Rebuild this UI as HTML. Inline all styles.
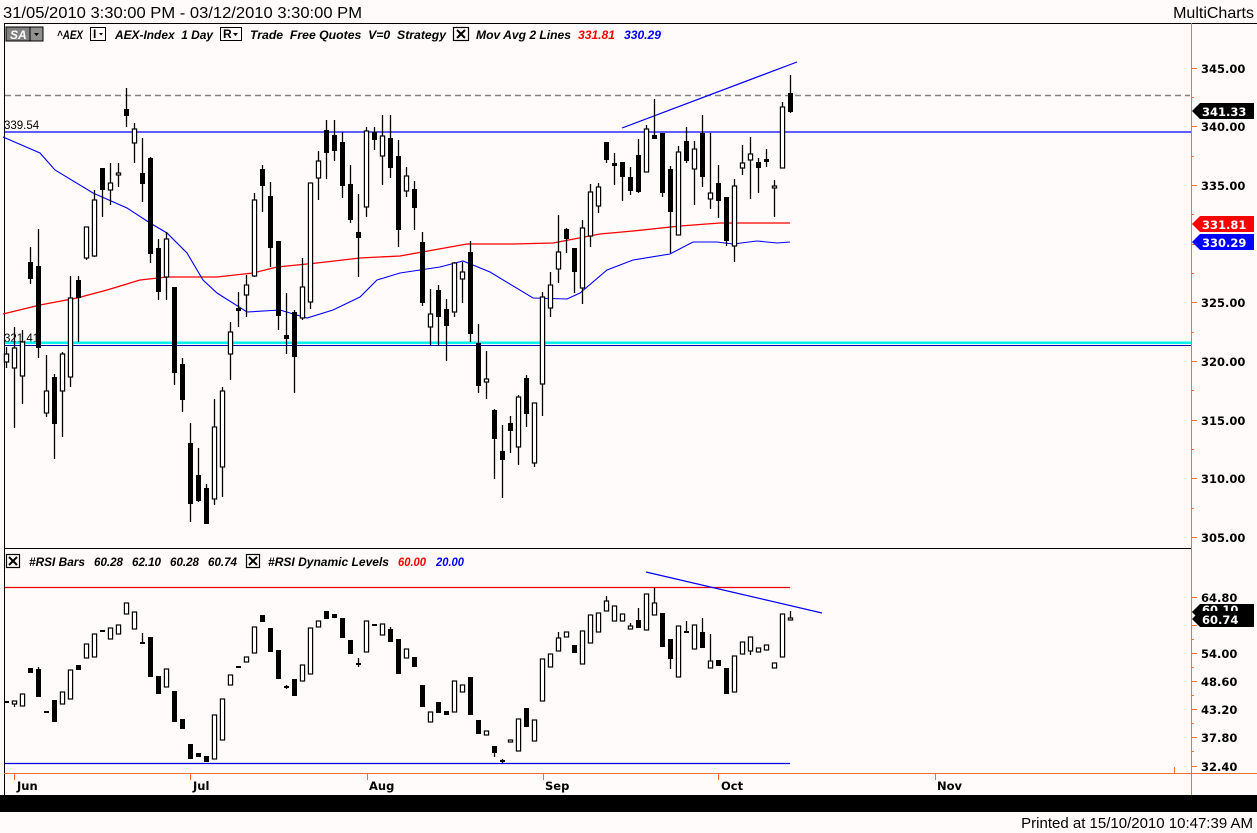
<!DOCTYPE html>
<html><head><meta charset="utf-8">
<style>
html,body{margin:0;padding:0;background:#fffbfa;}
body{width:1257px;height:833px;overflow:hidden;position:relative;font-family:"Liberation Sans",sans-serif;}
svg{position:absolute;left:0;top:0;}
.ax{font-family:"DejaVu Sans",sans-serif;font-weight:bold;font-size:11.5px;fill:#000;}
.lg{font-family:"Liberation Sans",sans-serif;font-weight:bold;font-style:italic;font-size:12px;fill:#000;}
.mo{font-family:"DejaVu Sans",sans-serif;font-weight:bold;font-size:11.5px;fill:#000;}
</style></head><body>
<svg id="s" width="1257" height="833" viewBox="0 0 1257 833" xmlns="http://www.w3.org/2000/svg">
<rect x="0" y="0" width="1257" height="833" fill="#fffbfa"/>
<text x="3" y="18" font-family="Liberation Sans" font-size="16" fill="#000" textLength="359" lengthAdjust="spacingAndGlyphs">31/05/2010 3:30:00 PM - 03/12/2010 3:30:00 PM</text>
<text x="1254" y="18" font-family="Liberation Sans" font-size="16" fill="#000" text-anchor="end">MultiCharts</text>
<!-- frame -->
<line x1="4" y1="23.5" x2="1257" y2="23.5" stroke="#000"/>
<line x1="4.5" y1="23" x2="4.5" y2="795" stroke="#000"/>
<line x1="4" y1="548.5" x2="1191" y2="548.5" stroke="#000"/>
<line x1="1191.5" y1="23" x2="1191.5" y2="795" stroke="#f07030"/>
<line x1="4" y1="773.5" x2="1257" y2="773.5" stroke="#f07030"/>
<rect x="0" y="795" width="1257" height="17" fill="#000"/>
<text x="1253" y="828" font-family="Liberation Sans" font-size="15" fill="#000" text-anchor="end">Printed at 15/10/2010 10:47:39 AM</text>

<!-- legend row 1 -->
<rect x="6" y="27" width="24" height="14" fill="#808080" stroke="#000" stroke-width="1"/>
<text x="10" y="39" class="lg" style="fill:#fff">SA</text>
<rect x="30" y="27" width="13" height="14" fill="#909090" stroke="#000" stroke-width="1"/>
<path d="M34 33 L39 33 L36.5 36 Z" fill="#000"/>
<text x="57" y="39" class="lg" textLength="26" lengthAdjust="spacingAndGlyphs">^AEX</text>
<rect x="90.5" y="27.5" width="15" height="13" fill="none" stroke="#000"/>
<text x="93" y="38" class="lg" style="font-style:normal">I</text><path d="M99 33 L103 33 L101 35.5 Z" fill="#000"/>
<text x="115" y="39" class="lg" textLength="98" lengthAdjust="spacingAndGlyphs">AEX-Index&#160; 1 Day</text>
<rect x="220.5" y="27.5" width="21" height="13" fill="none" stroke="#000"/>
<text x="223" y="38" class="lg" style="font-style:normal">R</text><path d="M233 33 L238 33 L235.5 36 Z" fill="#000"/>
<text x="250" y="39" class="lg" textLength="196" lengthAdjust="spacingAndGlyphs">Trade&#160; Free Quotes&#160; V=0&#160; Strategy</text>
<rect x="453.5" y="27.5" width="15" height="13" fill="none" stroke="#000" stroke-width="1.2"/>
<path d="M457 30 L465 38 M465 30 L457 38" stroke="#000" stroke-width="2"/>
<text x="476" y="39" class="lg" textLength="95" lengthAdjust="spacingAndGlyphs">Mov Avg 2 Lines</text>
<text x="578" y="39" class="lg" style="fill:#f00" textLength="37" lengthAdjust="spacingAndGlyphs">331.81</text>
<text x="624" y="39" class="lg" style="fill:#00f" textLength="37" lengthAdjust="spacingAndGlyphs">330.29</text>

<!-- legend row 2 -->
<rect x="6.5" y="554.5" width="13" height="13" fill="none" stroke="#000" stroke-width="1.2"/>
<path d="M9 557 L17 565 M17 557 L9 565" stroke="#000" stroke-width="2"/>
<text x="29" y="566" class="lg" textLength="56" lengthAdjust="spacingAndGlyphs">#RSI Bars</text>
<text x="94" y="566" class="lg" textLength="29" lengthAdjust="spacingAndGlyphs">60.28</text>
<text x="132" y="566" class="lg" textLength="29" lengthAdjust="spacingAndGlyphs">62.10</text>
<text x="170" y="566" class="lg" textLength="29" lengthAdjust="spacingAndGlyphs">60.28</text>
<text x="208" y="566" class="lg" textLength="29" lengthAdjust="spacingAndGlyphs">60.74</text>
<rect x="246.5" y="554.5" width="13" height="13" fill="none" stroke="#000" stroke-width="1.2"/>
<path d="M249 557 L257 565 M257 557 L249 565" stroke="#000" stroke-width="2"/>
<text x="268" y="566" class="lg" textLength="121" lengthAdjust="spacingAndGlyphs">#RSI Dynamic Levels</text>
<text x="398" y="566" class="lg" style="fill:#f00" textLength="28" lengthAdjust="spacingAndGlyphs">60.00</text>
<text x="436" y="566" class="lg" style="fill:#00f" textLength="28" lengthAdjust="spacingAndGlyphs">20.00</text>

<!-- horizontal lines price -->
<line x1="5" y1="95.5" x2="1190" y2="95.5" stroke="#808080" stroke-width="1.5" stroke-dasharray="6,4"/>
<line x1="5" y1="132" x2="1191" y2="132" stroke="#0000ff" stroke-width="1.3"/>
<text x="4" y="129" font-family="Liberation Sans" font-size="11.5" fill="#000">339.54</text>
<text x="4" y="342" font-family="Liberation Sans" font-size="11.5" fill="#000">321.41</text>
<line x1="5" y1="342.7" x2="1191" y2="342.7" stroke="#00f0f0" stroke-width="2.5"/>
<line x1="5" y1="345.5" x2="1191" y2="345.5" stroke="#0000a0" stroke-width="1"/>
<line x1="622" y1="128" x2="797" y2="62" stroke="#0000ff" stroke-width="1.2"/>

<!-- MAs -->
<polyline fill="none" stroke="#f00" stroke-width="1.3" points="3,314 40,305 77,298 107,290 140,280 167,277 187,277 217,277 253,273 277,267 317,263 360,258 400,256 467,244 513,244 553,243 600,234 633,231 680,226 720,223 790,223"/>
<polyline fill="none" stroke="#00f" stroke-width="1.1" points="3,137 40,153 55,170 93,193 127,208 150,223 167,233 187,253 203,280 217,293 247,312 280,310 307,318 333,310 360,297 377,280 400,273 440,267 463,261 490,272 533,298 567,299 580,293 607,270 633,260 670,254 693,242 717,242 733,244 757,241 777,243 790,242"/>

<!-- RSI lines -->
<line x1="5" y1="587.5" x2="790" y2="587.5" stroke="#e00000" stroke-width="1.2"/>
<line x1="5" y1="763.5" x2="790" y2="763.5" stroke="#0000e0" stroke-width="1.2"/>
<line x1="646" y1="572" x2="822" y2="613" stroke="#0000ff" stroke-width="1.2"/>

<g id="pc"></g>
<g id="rc"></g>

<!-- price axis -->
<g stroke="#f07030" stroke-width="1">
<line x1="1191" y1="68.5" x2="1197" y2="68.5"/><line x1="1191" y1="97.5" x2="1194" y2="97.5"/>
<line x1="1191" y1="126.5" x2="1197" y2="126.5"/><line x1="1191" y1="156.5" x2="1194" y2="156.5"/>
<line x1="1191" y1="185.5" x2="1197" y2="185.5"/><line x1="1191" y1="214.5" x2="1194" y2="214.5"/>
<line x1="1191" y1="244.5" x2="1197" y2="244.5"/><line x1="1191" y1="273.5" x2="1194" y2="273.5"/>
<line x1="1191" y1="302.5" x2="1197" y2="302.5"/><line x1="1191" y1="332.5" x2="1194" y2="332.5"/>
<line x1="1191" y1="361.5" x2="1197" y2="361.5"/><line x1="1191" y1="390.5" x2="1194" y2="390.5"/>
<line x1="1191" y1="420.5" x2="1197" y2="420.5"/><line x1="1191" y1="449.5" x2="1194" y2="449.5"/>
<line x1="1191" y1="478.5" x2="1197" y2="478.5"/><line x1="1191" y1="508.5" x2="1194" y2="508.5"/>
<line x1="1191" y1="537.5" x2="1197" y2="537.5"/>
<line x1="1191" y1="597.5" x2="1197" y2="597.5"/><line x1="1191" y1="611.5" x2="1194" y2="611.5"/>
<line x1="1191" y1="625.5" x2="1197" y2="625.5"/><line x1="1191" y1="639.5" x2="1194" y2="639.5"/>
<line x1="1191" y1="653.5" x2="1197" y2="653.5"/><line x1="1191" y1="667.5" x2="1194" y2="667.5"/>
<line x1="1191" y1="681.5" x2="1197" y2="681.5"/><line x1="1191" y1="695.5" x2="1194" y2="695.5"/>
<line x1="1191" y1="709.5" x2="1197" y2="709.5"/><line x1="1191" y1="723.5" x2="1194" y2="723.5"/>
<line x1="1191" y1="737.5" x2="1197" y2="737.5"/><line x1="1191" y1="751.5" x2="1194" y2="751.5"/>
<line x1="1191" y1="766.5" x2="1197" y2="766.5"/>
<line x1="14.5" y1="773" x2="14.5" y2="780"/><line x1="190.5" y1="773" x2="190.5" y2="780"/>
<line x1="367.5" y1="773" x2="367.5" y2="780"/><line x1="543.5" y1="773" x2="543.5" y2="780"/>
<line x1="718.5" y1="773" x2="718.5" y2="780"/><line x1="935.5" y1="773" x2="935.5" y2="780"/>
<line x1="1174.5" y1="767" x2="1174.5" y2="773"/>
</g>
<g class="ax">
<text x="1201" y="73" class="ax">345.00</text>
<text x="1201" y="131" class="ax">340.00</text>
<text x="1201" y="190" class="ax">335.00</text>
<text x="1201" y="307" class="ax">325.00</text>
<text x="1201" y="366" class="ax">320.00</text>
<text x="1201" y="425" class="ax">315.00</text>
<text x="1201" y="483" class="ax">310.00</text>
<text x="1201" y="542" class="ax">305.00</text>
<text x="1201" y="602" class="ax">64.80</text>
<text x="1201" y="658" class="ax">54.00</text>
<text x="1201" y="686" class="ax">48.60</text>
<text x="1201" y="714" class="ax">43.20</text>
<text x="1201" y="742" class="ax">37.80</text>
<text x="1201" y="771" class="ax">32.40</text>
</g>
<!-- markers -->
<path d="M1192 111 L1200 103 L1254 103 L1254 119 L1200 119 Z" fill="#000"/>
<text x="1202" y="116" class="ax" style="fill:#fff">341.33</text>
<path d="M1192 224 L1200 216 L1254 216 L1254 232 L1200 232 Z" fill="#f00"/>
<text x="1202" y="229" class="ax" style="fill:#fff">331.81</text>
<path d="M1192 242 L1200 234 L1254 234 L1254 250 L1200 250 Z" fill="#00f"/>
<text x="1202" y="247" class="ax" style="fill:#fff">330.29</text>
<path d="M1192 612 L1200 604 L1254 604 L1254 620 L1200 620 Z" fill="#000"/>
<text x="1202" y="614" class="ax" style="fill:#fff">60.10</text>
<path d="M1192 619 L1200 611 L1254 611 L1254 627 L1200 627 Z" fill="#000"/>
<text x="1202" y="624" class="ax" style="fill:#fff">60.74</text>
<!-- months -->
<text x="17" y="790" class="mo">Jun</text>
<text x="193" y="790" class="mo">Jul</text>
<text x="369" y="790" class="mo">Aug</text>
<text x="545" y="790" class="mo">Sep</text>
<text x="721" y="790" class="mo">Oct</text>
<text x="937" y="790" class="mo">Nov</text>
</svg>
<script>
var P=[[347,368,354,362,0],[327,428,348,368,0],[330,404,342,376,0],[247,284,262,279,1],[229,358,266,348,1],[355,417,391,413,0],[374,459,377,424,1],[352,437,354,391,0],[276,387,298,377,0],[276,342,280,298,1],[227,260,227,258,0],[190,257,200,256,0],[168,217,168,190,1],[163,205,183,190,0],[163,187,173,175,0],[88,127,109,116,1],[123,163,129,143,0],[138,202,173,184,1],[157,263,158,254,1],[239,300,248,292,1],[232,300,239,277,0],[287,385,287,373,1],[358,412,364,400,1],[423,522,443,504,1],[448,502,475,501,1],[484,524,488,524,1],[399,505,427,499,0],[387,497,391,467,0],[322,380,332,354,0],[292,327,308,311,1],[275,317,285,295,0],[193,277,200,276,0],[165,212,169,186,1],[182,267,196,248,1],[241,330,241,316,1],[293,354,335,339,1],[310,393,312,357,1],[258,320,287,318,0],[183,309,183,302,0],[151,200,161,178,0],[120,179,130,153,1],[120,161,135,151,1],[132,198,142,186,1],[165,223,184,220,1],[194,277,232,238,1],[127,217,131,207,0],[127,150,132,140,1],[115,185,136,156,0],[115,178,138,168,1],[140,247,156,230,1],[167,197,176,191,0],[181,230,189,208,1],[232,306,242,303,1],[289,345,314,327,0],[285,346,290,317,1],[299,361,309,326,1],[262,317,263,312,0],[262,303,272,279,0],[241,342,252,334,1],[324,393,343,386,1],[351,399,379,382,0],[409,479,410,439,1],[425,498,451,460,1],[416,453,423,431,1],[395,465,397,447,0],[375,427,378,414,1],[403,467,403,463,0],[292,416,297,384,0],[272,317,285,308,0],[215,283,252,269,0],[228,253,229,239,1],[248,293,248,272,1],[220,304,228,288,0],[184,247,192,236,0],[183,213,187,206,0],[142,163,142,160,1],[153,185,163,166,1],[162,201,162,177,1],[167,195,177,191,1],[139,193,155,192,1],[125,172,129,172,0],[99,139,135,139,1],[133,197,133,193,1],[166,253,169,212,1],[146,235,152,235,0],[127,163,141,161,1],[141,205,149,169,0],[115,187,133,177,1],[133,209,193,199,0],[165,218,183,201,1],[197,246,197,241,1],[179,262,186,246,0],[145,175,163,168,0],[137,199,154,160,0],[158,193,162,168,1],[149,167,159,162,1],[180,217,186,188,0],[102,168,107,168,0],[75,113,93,112,1]];
var R=[[702,702,701,703,1],[701,707,701,704,0],[694,706,694,706,0],[668,673,668,673,1],[667,697,669,697,1],[712,712,711,713,1],[700,722,700,722,1],[692,704,692,704,0],[670,699,670,699,0],[665,670,665,670,1],[644,658,644,658,0],[634,657,634,657,0],[630,632,630,632,1],[628,639,628,639,0],[625,634,625,634,0],[603,614,603,614,0],[612,629,612,629,0],[633,643,642,644,1],[637,677,637,677,1],[676,694,676,694,1],[669,687,669,687,0],[691,722,691,722,1],[719,729,719,729,1],[744,759,744,759,1],[753,757,753,757,1],[756,762,756,762,1],[715,759,715,759,0],[699,740,699,740,0],[675,685,675,685,0],[667,667,666,668,1],[657,662,657,662,0],[627,653,627,653,0],[615,622,615,622,1],[628,652,628,652,1],[650,679,650,679,1],[685,689,686,688,1],[679,696,679,696,1],[665,681,665,681,0],[628,674,628,674,0],[621,627,621,627,0],[611,619,611,619,1],[614,618,614,618,1],[618,638,618,638,1],[640,654,640,654,1],[658,667,663,665,1],[621,652,621,652,0],[624,626,624,626,1],[624,635,624,635,0],[627,642,629,642,1],[639,674,639,674,1],[649,658,649,658,0],[657,667,657,667,1],[685,707,685,707,1],[712,722,712,722,0],[702,713,702,713,1],[711,715,711,715,1],[681,712,681,712,0],[685,692,685,692,0],[677,715,677,715,1],[720,734,720,734,1],[731,735,731,735,0],[746,757,746,753,1],[759,763,760,762,1],[740,742,740,742,0],[719,751,719,751,0],[708,727,708,727,1],[720,741,720,741,0],[659,701,659,701,0],[654,667,654,667,0],[632,651,638,651,0],[632,637,632,637,0],[645,653,645,653,1],[631,664,631,664,0],[615,643,615,643,0],[613,632,613,632,0],[596,611,601,611,0],[606,621,606,621,0],[614,621,614,621,0],[623,629,626,629,0],[608,628,620,628,1],[594,630,594,630,0],[588,615,603,615,0],[613,647,613,647,1],[639,669,639,659,1],[626,677,626,677,0],[621,632,631,633,1],[625,649,625,649,0],[618,648,632,648,1],[634,668,661,668,0],[660,666,660,666,1],[668,694,668,694,1],[656,692,656,692,0],[642,654,642,654,0],[637,655,637,651,0],[648,652,648,652,0],[645,650,645,650,0],[663,668,663,668,0],[614,657,614,657,0],[611,620,618,620,0]];
function draw(id,D){var g=document.getElementById(id),h='';for(var i=0;i<D.length;i++){var d=D[i],x=6+8*i;h+='<line x1="'+(x+0.5)+'" y1="'+d[0]+'" x2="'+(x+0.5)+'" y2="'+d[1]+'" stroke="#000" stroke-width="1.3"/>';var t=d[2],b=Math.max(d[3],d[2]+1.5);if(d[4])h+='<rect x="'+(x-2)+'" y="'+t+'" width="5" height="'+(b-t)+'" fill="#000"/>';else h+='<rect x="'+(x-1.6)+'" y="'+t+'" width="4.2" height="'+(b-t)+'" fill="#fff" stroke="#000" stroke-width="1.2"/>';}g.innerHTML=h;}
draw('pc',P);draw('rc',R);
</script>
</body></html>
